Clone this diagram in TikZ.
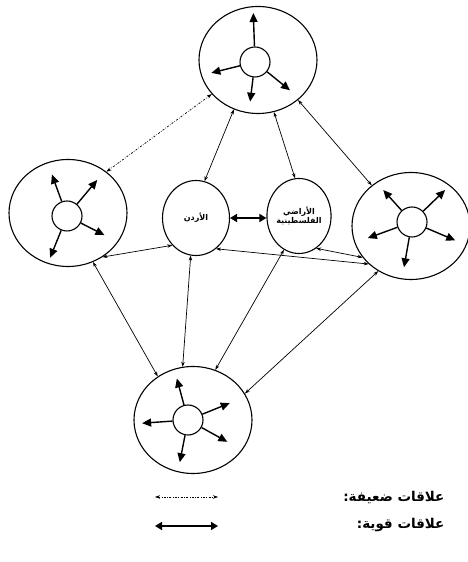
\documentclass[tikz,border=0pt]{standalone}
\usepackage{fontspec}
\newfontfamily\arabicfont[Script=Arabic]{DejaVu Sans}
\TeXXeTstate=1
\usetikzlibrary{shapes.geometric,arrows.meta}

\begin{document}
\begin{tikzpicture}[x=1pt,y=1pt,
    region/.style={draw,ellipse,line width=1.1pt,minimum width=118pt,minimum height=107pt,inner sep=0pt},
    hub/.style={draw,circle,fill=white,line width=1.1pt,minimum size=30pt,inner sep=0pt},
    state/.style={draw,ellipse,line width=1.1pt,minimum width=67pt,minimum height=75pt,inner sep=0pt,
                  font=\arabicfont\bfseries\footnotesize,align=center},
    link/.style={<->,line width=0.7pt,>={Stealth[length=5pt,width=3.5pt]}},
    weak/.style={link,dash pattern=on 2pt off 1.5pt on 0.6pt off 1.5pt},
    strong/.style={{Triangle[length=7pt,width=8pt]}-{Triangle[length=7pt,width=8pt]},line width=2pt},
    spoke/.style={-{Triangle[length=9pt,width=8pt]},line width=1.4pt},
    legend/.style={font=\arabicfont\bfseries\fontsize{13.5}{16}\selectfont,anchor=east}]

  \useasboundingbox (0,0) rectangle (468,562);

  % outer regions with their hubs
  \node[region] (top)    at (258,502) {};
  \node[region] (left)   at (68,349)  {};
  \node[region] (right)  at (411,336) {};
  \node[region] (bottom) at (193,142) {};

  \node[hub] (topIn)    at (255,500) {};
  \node[hub] (leftIn)   at (67,346)  {};
  \node[hub] (rightIn)  at (412,340) {};
  \node[hub] (bottomIn) at (188,142) {};

  \foreach \a/\l in {92/49,194/45,263/40,321/45}
    \draw[spoke] (topIn.\a) -- ([shift={(\a:\l)}]topIn.center);
  \foreach \a/\l in {110/44,50/47,333/42,248/45}
    \draw[spoke] (leftIn.\a) -- ([shift={(\a:\l)}]leftIn.center);
  \foreach \a/\l in {132/43,44/46,200/47,260/46,337/47}
    \draw[spoke] (rightIn.\a) -- ([shift={(\a:\l)}]rightIn.center);
  \foreach \a/\l in {105/43,22/45,184/46,259/43,331/45}
    \draw[spoke] (bottomIn.\a) -- ([shift={(\a:\l)}]bottomIn.center);

  % the two states in the middle
  \node[state] (jordan) at (196,344) {\beginR الأردن\endR};
  \node[state,minimum width=64pt] (pal) at (299,346)
        {\beginR الأراضي\endR\\ \beginR الفلسطينية\endR};

  \path (jordan.east) edge[strong] (pal.west |- jordan.east);

  \path (top) edge[weak] (left.47);
  \path (top.244) edge[link] (jordan.77)
        (top.287) edge[link] (pal.96)
        (top.315) edge[link] (right.134);
  \path (left.308) edge[link] (jordan.229)
        (left.297) edge[link] (bottom.129);
  \path (jordan.303) edge[link] (right.222)
        (jordan.262) edge[link] (bottom.101);
  \path (pal.298) edge[link] (right.213)
        (pal.246) edge[link] (bottom.66);
  \path (right.234) edge[link] (bottom.27);

  % legend
  \coordinate (w1) at (155,65);
  \coordinate (w2) at (218,65);
  \coordinate (s1) at (155,36);
  \coordinate (s2) at (218,36);
  \path (w1) edge[weak,line width=0.5pt] (w2);
  \path (s1) edge[strong,line width=1.5pt] (s2);
  \node[legend] (weakLbl)   at (448,65) {\beginR علاقات ضعيفة:\endR};
  \node[legend] (strongLbl) at (448,37) {\beginR علاقات قوية:\endR};
\end{tikzpicture}
\end{document}
